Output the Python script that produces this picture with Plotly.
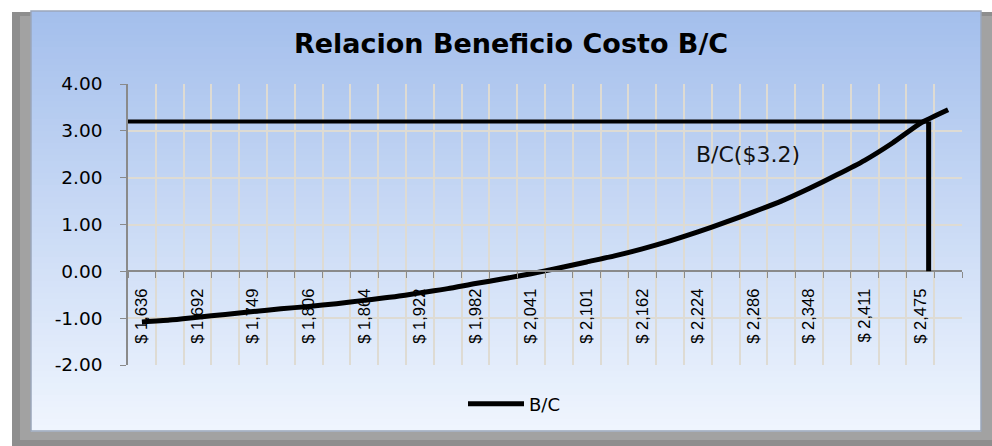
import plotly.graph_objects as go

# ---------------- data ----------------
costs = [1636, 1664, 1692, 1720, 1749, 1777, 1806, 1835, 1864, 1893,
         1922, 1952, 1982, 2011, 2041, 2071, 2101, 2131, 2162, 2193,
         2224, 2255, 2286, 2317, 2348, 2379, 2411, 2443, 2475, 2507]
bc_values = [-1.08, -1.04, -0.98, -0.92, -0.86, -0.80, -0.75, -0.69, -0.62, -0.55,
             -0.46, -0.37, -0.26, -0.16, -0.05, 0.07, 0.20, 0.33, 0.48, 0.65,
             0.84, 1.05, 1.27, 1.50, 1.77, 2.06, 2.37, 2.74, 3.16, 3.45]
bc_target = 3.2
target_x = 28.3          # where the marker drop line sits (category index units)
y_ticks = [-2, -1, 0, 1, 2, 3, 4]
series_name = "B/C"
title_text = "Relacion Beneficio Costo B/C"
annot_text = "B/C($3.2)"

# ---------------- layout geometry ----------------
W, H = 992, 446
ML, MR, MT, MB = 128, 30, 84, 81
PW, PH = W - ML - MR, H - MT - MB


def px(x):
    return (x - ML) / PW


def py(y):
    return (H - MB - y) / PH


idx = list(range(len(costs)))
tick_idx = idx[::2]
tick_txt = [f"$ {costs[i]:,}" for i in tick_idx]

shapes = []
# drop shadow frame
shapes.append(dict(type="rect", xref="paper", yref="paper", layer="below",
                   x0=px(12), x1=px(992), y0=py(446), y1=py(12),
                   fillcolor="#8e8e8e", line=dict(width=0)))
shapes.append(dict(type="rect", xref="paper", yref="paper", layer="below",
                   x0=px(20), x1=px(992), y0=py(440), y1=py(16),
                   fillcolor="#a2a2a2", line=dict(width=0)))
# gradient panel
top_c = (0xa4, 0xbf, 0xec)
bot_c = (0xef, 0xf5, 0xfe)
y_top, y_bot = 11, 431
n = 70
for k in range(n):
    t = k / (n - 1)
    c = tuple(int(round(top_c[j] + (bot_c[j] - top_c[j]) * t)) for j in range(3))
    ya = y_top + (y_bot - y_top) * k / n
    yb = y_top + (y_bot - y_top) * (k + 1) / n
    shapes.append(dict(type="rect", xref="paper", yref="paper", layer="below",
                       x0=px(31), x1=px(981), y0=py(yb + 0.6), y1=py(ya),
                       fillcolor="rgb(%d,%d,%d)" % c, line=dict(width=0)))
shapes.append(dict(type="rect", xref="paper", yref="paper", layer="below",
                   x0=px(31), x1=px(981), y0=py(431), y1=py(11),
                   fillcolor="rgba(0,0,0,0)", line=dict(color="#9ba7ba", width=1.5)))
# target lines
shapes.append(dict(type="line", xref="x", yref="y", x0=-0.5, x1=target_x,
                   y0=bc_target, y1=bc_target, line=dict(color="black", width=4)))
shapes.append(dict(type="line", xref="x", yref="y", x0=target_x, x1=target_x,
                   y0=bc_target, y1=0, line=dict(color="black", width=5)))

fig = go.Figure()
fig.add_trace(go.Scatter(
    x=idx, y=bc_values, mode="lines", name=series_name,
    line=dict(color="black", width=5, shape="spline", smoothing=0.6),
))

grid_c = "#dedbd3"
axis_c = "#8a8a8a"

fig.update_layout(
    width=W, height=H,
    margin=dict(l=ML, r=MR, t=MT, b=MB),
    paper_bgcolor="white",
    plot_bgcolor="rgba(0,0,0,0)",
    shapes=shapes,
    showlegend=True,
    title=dict(text=title_text, x=511 / W, xanchor="center", y=1 - 44 / H, yanchor="middle",
               font=dict(family="DejaVu Sans", size=27, color="black", weight="bold")),
    xaxis=dict(
        range=[-0.5, len(costs) - 0.5],
        tickmode="array", tickvals=tick_idx, ticktext=tick_txt,
        tickangle=-90, ticks="", showgrid=False, zeroline=False,
        tickfont=dict(family="Liberation Sans", size=16.5, color="black"),
        showline=True, linecolor=axis_c, linewidth=1.5,
        anchor="free", position=2 / 6,
        ticklabelstandoff=10,
        minor=dict(tick0=0.5, dtick=1, ticks="outside", ticklen=6, tickcolor=axis_c,
                   showgrid=True, gridcolor=grid_c, gridwidth=1.5),
        fixedrange=True,
    ),
    yaxis=dict(
        range=[-2, 4], tickmode="array", tickvals=y_ticks,
        ticktext=["%.2f" % v for v in y_ticks],
        tickfont=dict(family="DejaVu Sans", size=18.5, color="black"),
        ticks="outside", ticklen=6, tickcolor=axis_c,
        showline=True, linecolor=axis_c, linewidth=1.5,
        showgrid=True, gridcolor=grid_c, gridwidth=1.5, zeroline=False,
        ticklabelstandoff=14,
    ),
    legend=dict(orientation="h", x=px(514), xanchor="center", y=py(404), yanchor="middle",
                bgcolor="rgba(0,0,0,0)", itemwidth=56,
                font=dict(family="DejaVu Sans", size=18, color="black")),
    annotations=[dict(text=annot_text, x=21.8, y=2.5, xref="x", yref="y", showarrow=False,
                      font=dict(family="DejaVu Sans", size=22, color="#111111"))],
)

fig.write_html(
    "out.html",
    config={"displayModeBar": False},
    post_script="document.body.style.margin='0';document.body.style.overflow='hidden';",
)
